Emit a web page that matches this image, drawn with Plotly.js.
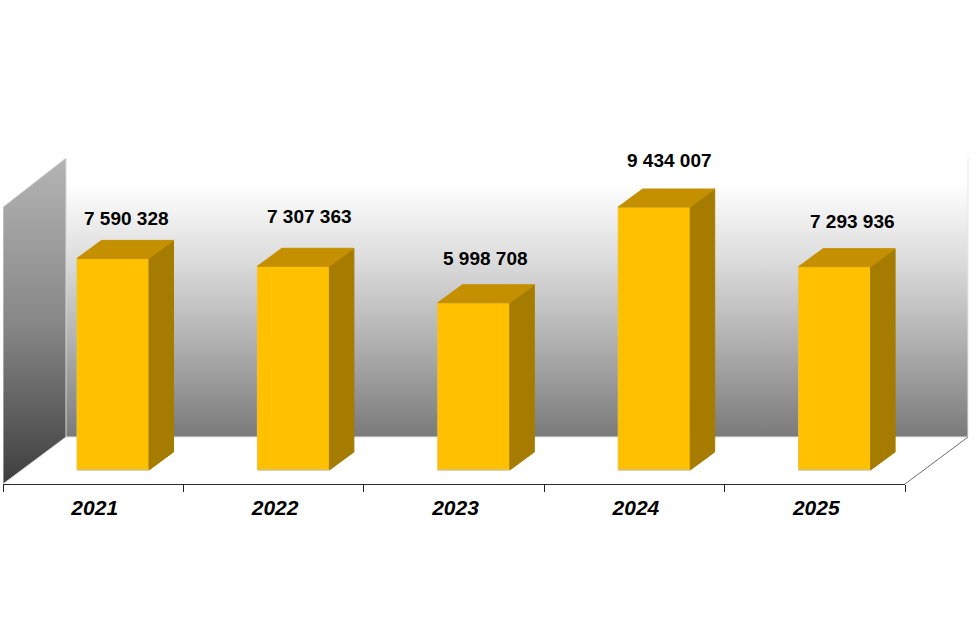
<!DOCTYPE html>
<html>
<head>
<meta charset="utf-8">
<script src="https://cdn.plot.ly/plotly-3.0.1.min.js"></script>
<style>html,body{margin:0;padding:0;background:#fff}#chart{width:977px;height:631px}</style>
</head>
<body>
<div id="chart"></div>
<script>
const years = ['2021', '2022', '2023', '2024', '2025'];
const values = [7590328, 7307363, 5998708, 9434007, 7293936];
const valueLabels = ['7 590 328', '7 307 363', '5 998 708', '9 434 007', '7 293 936'];
const labelNudgeX = [33.5, 35.5, 31, 35, 37.5];
const labelNudgeY = [40, 50, 44, 47, 45];

// scale of the plot (px per axis unit)
const W = 977, H = 631;
const plotLeft = 3, plotRight = 905, wallRight = 972, plotBottom = 484, plotTop = 158;
const pxX = (plotRight - plotLeft) / 5;
const pxY = 263 / 9434007;
const yMin = -14 / pxY;
const yMax = yMin + (plotBottom - plotTop) / pxY;
const wallDX = 63 / pxX, wallDY = 47 / pxY;
const leftTop = yMin + 277 / pxY;
const barDX = 24.5 / pxX, barDY = 18 / pxY;
const barWidth = 72 / pxX, barOffset = -16.2 / pxX;
const xs = years.map((_, i) => i);
const xMin = -0.5, xMax = 4.5;
const xWallMax = xMin + (wallRight - plotLeft) / pxX;

function face(px, py, fill, lineColor, extra, front) {
  return Object.assign({
    type: 'scatter', mode: 'lines', x: px, y: py, fill: 'toself', fillcolor: fill,
    line: {color: lineColor, width: 1}, hoverinfo: 'skip', showlegend: false,
    xaxis: front ? 'x2' : 'x', yaxis: front ? 'y2' : 'y'
  }, extra || {});
}

const backX = [xMin + wallDX, xMax + wallDX, xMax + wallDX, xMin + wallDX, xMin + wallDX];
const backY = [yMin + wallDY, yMin + wallDY, yMax, yMax, yMin + wallDY];
const leftX = [xMin, xMin + wallDX, xMin + wallDX, xMin, xMin];
const leftY = [yMin, yMin + wallDY, yMax, leftTop, yMin];

const traces = [
  face(backX, backY, '#ffffff', 'rgba(0,0,0,0)', {
    line: {width: 0},
    fillgradient: {type: 'vertical', start: yMax, stop: yMin + wallDY, colorscale: [
      [0, '#ffffff'], [0.09, '#ffffff'], [0.35, '#dedede'], [0.65, '#b2b2b2'], [1, '#7a7a7a']
    ]}
  }),
  face([xMax + wallDX, xMax + wallDX], [yMin + wallDY, yMax], 'rgba(0,0,0,0)', '#e6e6e6', {fill: 'none'}),
  face([xMin + wallDX, xMax + wallDX], [yMin + wallDY, yMin + wallDY], 'rgba(0,0,0,0)', '#e2e2e2', {fill: 'none'}),
  face(leftX, leftY, '#888888', '#d8d8d8', {
    fillgradient: {type: 'vertical', start: yMax, stop: yMin, colorscale: [
      [0, '#b4b4b4'], [0.5, '#888888'], [1, '#3e3e3e']
    ]}
  }),
  face([xMax, xMax + wallDX], [yMin, yMin + wallDY], 'rgba(0,0,0,0)', '#6e6e6e', {fill: 'none'}),
  {
    type: 'bar', x: xs, y: values, width: barWidth, offset: barOffset,
    marker: {color: '#FFC000', line: {color: '#F0C040', width: 1}},
    hoverinfo: 'x+y', showlegend: false, xaxis: 'x2', yaxis: 'y2'
  }
];

values.forEach((v, i) => {
  const l = i + barOffset, r = l + barWidth;
  traces.push(face([r, r + barDX, r + barDX, r, r], [0, barDY, v + barDY, v, 0], '#A67C00', '#A67C00', null, true));
  traces.push(face([l, r, r + barDX, l + barDX, l], [v, v, v + barDY, v + barDY, v], '#C49000', '#C49000', null, true));
  traces.push(face([l, r], [0, 0], 'rgba(0,0,0,0)', '#c4c4b8', {fill: 'none'}, true));
});

const annotations = values.map((v, i) => ({
  x: i, y: v, xref: 'x2', yref: 'y2', text: valueLabels[i], showarrow: false,
  xshift: labelNudgeX[i], yshift: labelNudgeY[i], xanchor: 'center', yanchor: 'middle',
  font: {family: 'Liberation Sans, Arial, sans-serif', size: 19, color: '#000', weight: 'bold'}
}));

const domainY = [(H - plotBottom) / H, (H - plotTop) / H];

const layout = {
  width: W, height: H, margin: {l: 0, r: 0, t: 0, b: 0},
  paper_bgcolor: '#ffffff', plot_bgcolor: 'rgba(0,0,0,0)', showlegend: false, annotations,
  xaxis: {domain: [plotLeft / W, wallRight / W], range: [xMin, xWallMax], anchor: 'y', visible: false, showgrid: false, zeroline: false},
  yaxis: {domain: domainY, range: [yMin, yMax], anchor: 'x', visible: false, showgrid: false, zeroline: false},
  xaxis2: {
    domain: [plotLeft / W, plotRight / W], range: [xMin, xMax], anchor: 'y2', showgrid: false, zeroline: false,
    showline: true, linecolor: '#2a2a2a', linewidth: 1,
    tickmode: 'array', tickvals: xs.map(i => i + 1.5 / pxX), ticktext: years, ticks: '', ticklabelstandoff: 5,
    tickfont: {family: 'Liberation Sans, Arial, sans-serif', size: 21, color: '#000', weight: 'bold', style: 'italic'},
    minor: {tickmode: 'array', tickvals: [-0.5, 0.5, 1.5, 2.5, 3.5, 4.5], ticks: 'outside', ticklen: 7, tickwidth: 1, tickcolor: '#222', showgrid: false}
  },
  yaxis2: {domain: domainY, range: [yMin, yMax], anchor: 'x2', visible: false, showgrid: false, zeroline: false}
};

Plotly.newPlot('chart', traces, layout, {displayModeBar: false, staticPlot: true});
</script>
</body>
</html>
